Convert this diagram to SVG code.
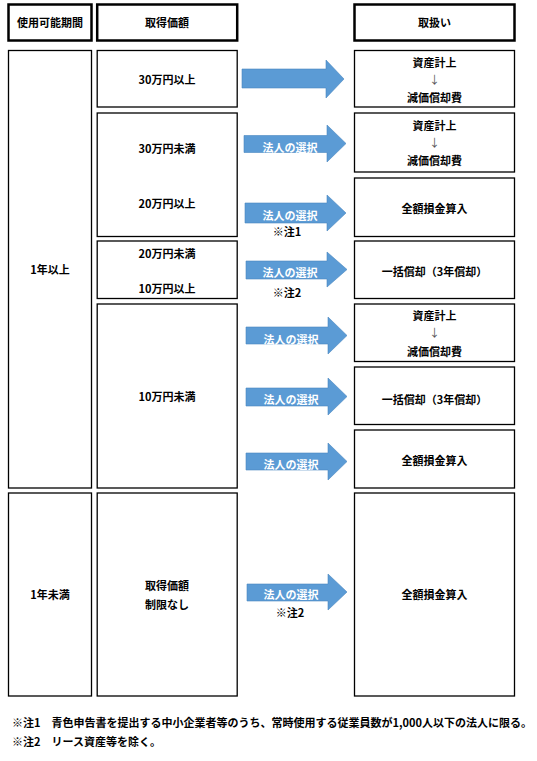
<svg xmlns="http://www.w3.org/2000/svg" width="537" height="761" viewBox="0 0 537 761">
<style>
text{font-family:"Noto Sans CJK JP","Liberation Sans",sans-serif;font-size:11px;font-weight:bold;fill:#000;text-anchor:middle;dominant-baseline:central}
.hdr{fill:#fff;stroke:#000;stroke-width:2.5}
.box{fill:#fff;stroke:#000;stroke-width:1.3}
.arr{fill:#5b9bd5;stroke:#4a86c0;stroke-width:0.6}
text.w{fill:#fff}
text.ar{font-weight:normal;fill:#555}
text.note{text-anchor:start}
</style>
<rect width="537" height="761" fill="#fff"/>
<g id="header-period"><rect class="hdr" x="8.5" y="4.5" width="83" height="36"/><text x="50" y="22">使用可能期間</text></g>
<g id="header-price"><rect class="hdr" x="97.2" y="4.5" width="140" height="36"/><text x="167" y="22">取得価額</text></g>
<g id="header-treat"><rect class="hdr" x="354.5" y="4.5" width="160" height="36"/><text x="434.5" y="22">取扱い</text></g>

<g id="period-over1"><rect class="box" x="8.5" y="50.5" width="83" height="437.5"/><text x="50" y="269">1年以上</text></g>
<g id="period-under1"><rect class="box" x="8.5" y="493" width="83" height="203"/><text x="50" y="594">1年未満</text></g>

<g id="price-30over"><rect class="box" x="97.2" y="50.5" width="140" height="56.5"/><text x="167" y="79">30万円以上</text></g>
<g id="price-20-30"><rect class="box" x="97.2" y="113" width="140" height="123.5"/><text x="167" y="148">30万円未満</text><text x="167" y="203">20万円以上</text></g>
<g id="price-10-20"><rect class="box" x="97.2" y="241" width="140" height="57.5"/><text x="167" y="253">20万円未満</text><text x="167" y="288">10万円以上</text></g>
<g id="price-under10"><rect class="box" x="97.2" y="304" width="140" height="184"/><text x="167" y="396">10万円未満</text></g>
<g id="price-nolimit"><rect class="box" x="97.2" y="493" width="140" height="203"/><text x="167" y="585">取得価額</text><text x="167" y="604">制限なし</text></g>

<g id="treat-1"><rect class="box" x="354.5" y="50.5" width="160" height="56.5"/><text x="434.5" y="62">資産計上</text><text class="ar" x="434.5" y="79">↓</text><text x="434.5" y="97">減価償却費</text></g>
<g id="treat-2"><rect class="box" x="354.5" y="113" width="160" height="59"/><text x="434.5" y="125">資産計上</text><text class="ar" x="434.5" y="142">↓</text><text x="434.5" y="160">減価償却費</text></g>
<g id="treat-3"><rect class="box" x="354.5" y="178" width="160" height="58.5"/><text x="434.5" y="208">全額損金算入</text></g>
<g id="treat-4"><rect class="box" x="354.5" y="241" width="160" height="57.5"/><text x="434.5" y="271">一括償却（3年償却）</text></g>
<g id="treat-5"><rect class="box" x="354.5" y="304" width="160" height="57.5"/><text x="434.5" y="315">資産計上</text><text class="ar" x="434.5" y="332">↓</text><text x="434.5" y="351">減価償却費</text></g>
<g id="treat-6"><rect class="box" x="354.5" y="367" width="160" height="57.5"/><text x="434.5" y="399">一括償却（3年償却）</text></g>
<g id="treat-7"><rect class="box" x="354.5" y="430" width="160" height="58"/><text x="434.5" y="460">全額損金算入</text></g>
<g id="treat-8"><rect class="box" x="354.5" y="493" width="160" height="203"/><text x="434.5" y="594">全額損金算入</text></g>

<g id="connectors">
<polygon class="arr" points="242,69 326,69 326,60 344,79 326,98 326,88 242,88"/>
<polygon class="arr" points="244,135.5 327,135.5 327,125 346,143.5 327,162 327,152.5 244,152.5"/>
<text class="w" x="290" y="147">法人の選択</text>
<polygon class="arr" points="245,203 327,203 327,195 346,213 327,231 327,223 245,223"/>
<text class="w" x="290" y="215">法人の選択</text>
<text x="287" y="231">※注1</text>
<polygon class="arr" points="246,261 327,261 327,252 347,269.5 327,287 327,279 246,279"/>
<text class="w" x="290" y="272">法人の選択</text>
<text x="287" y="292">※注2</text>
<polygon class="arr" points="246,327 328,327 328,317 347,335.5 328,354 328,344 246,344"/>
<text class="w" x="291" y="339">法人の選択</text>
<polygon class="arr" points="246,388 328,388 328,378 347,396.5 328,415 328,406 246,406"/>
<text class="w" x="291" y="399">法人の選択</text>
<polygon class="arr" points="246,453 328,453 328,443 347,461.5 328,480 328,470 246,470"/>
<text class="w" x="291" y="464">法人の選択</text>
<polygon class="arr" points="247,584 328,584 328,574 347,592 328,610 328,601 247,601"/>
<text class="w" x="291" y="594">法人の選択</text>
<text x="290" y="612">※注2</text>
</g>

<g id="notes">
<text class="note" x="12" y="722">※注1　青色申告書を提出する中小企業者等のうち、常時使用する従業員数が1,000人以下の法人に限る。</text>
<text class="note" x="12" y="741">※注2　リース資産等を除く。</text>
</g>
</svg>
